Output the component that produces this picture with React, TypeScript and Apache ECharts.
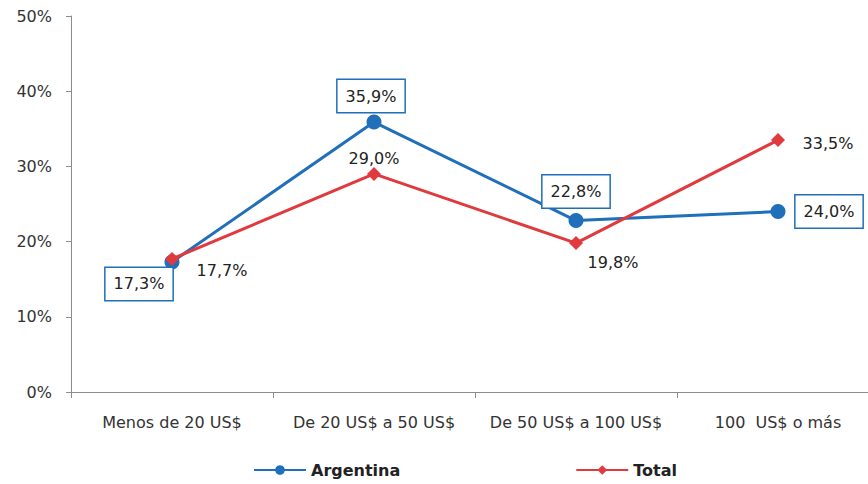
import React, { useEffect, useRef } from "react";
import * as echarts from "echarts";

const categories = ["Menos de 20 US$", "De 20 US$ a 50 US$", "De 50 US$ a 100 US$", "100  US$ o más"];
const argentina = [17.3, 35.9, 22.8, 24.0];
const total = [17.7, 29.0, 19.8, 33.5];
const yTicks = [0, 10, 20, 30, 40, 50];

const argOffsets = [[-33, 22], [-3, -26], [0, -29], [51, 0]];
const totOffsets = [[50, 12], [0, -15], [37, 19], [50, 3]];

const fmt = (v: number) => v.toFixed(1).replace(".", ",") + "%";
const FONT = "DejaVu Sans";

export default function App() {
  const ref = useRef<HTMLDivElement>(null);
  useEffect(() => {
    document.body.style.margin = "0";
    const chart = echarts.init(ref.current!, null, { renderer: "svg" });
    chart.setOption({
      animation: false,
      backgroundColor: "#ffffff",
      grid: { left: 71, width: 808, top: 16, bottom: 92, outerBoundsMode: "none", containLabel: false },
      legend: {
        top: 457,
        left: 248,
        itemWidth: 52,
        itemHeight: 12,
        itemGap: 175,
        textStyle: { fontFamily: FONT, fontSize: 16, fontWeight: "bold", color: "#222" },
        data: ["Argentina", "Total"],
      },
      xAxis: {
        type: "category",
        data: categories,
        boundaryGap: true,
        axisLine: { lineStyle: { color: "#8c8c8c", width: 1 } },
        axisTick: { show: true, length: 6, interval: 0, lineStyle: { color: "#8c8c8c" } },
        axisLabel: { fontFamily: FONT, fontSize: 16, color: "#333", margin: 22, interval: 0 },
      },
      yAxis: {
        type: "value",
        min: 0,
        max: 50,
        interval: 10,
        axisLine: { show: true, lineStyle: { color: "#8c8c8c", width: 1 } },
        axisTick: { show: true, length: 5, lineStyle: { color: "#8c8c8c" } },
        splitLine: { show: false },
        axisLabel: {
          fontFamily: FONT,
          fontSize: 16,
          color: "#333",
          margin: 19,
          formatter: (v: number) => (yTicks.includes(v) ? v + "%" : ""),
        },
      },
      series: [
        {
          name: "Argentina",
          type: "line",
          data: argentina.map((v, i) => ({
            value: v,
            label: {
              show: true,
              position: "inside",
              offset: argOffsets[i],
              formatter: fmt(v),
              fontFamily: FONT,
              fontSize: 16,
              color: "#222",
              backgroundColor: "#fff",
              borderColor: "#1f6fba",
              borderWidth: 1.5,
              padding: [9, 8, 7, 8],
            },
          })),
          symbol: "circle",
          symbolSize: 15,
          itemStyle: { color: "#1f6fba" },
          lineStyle: { color: "#1f6fba", width: 3 },
          z: 3,
        },
        {
          name: "Total",
          type: "line",
          data: total.map((v, i) => ({
            value: v,
            label: {
              show: true,
              position: "inside",
              offset: totOffsets[i],
              formatter: fmt(v),
              fontFamily: FONT,
              fontSize: 16,
              color: "#222",
            },
          })),
          symbol: "diamond",
          symbolSize: 14,
          itemStyle: { color: "#e0393e" },
          lineStyle: { color: "#e0393e", width: 3 },
          z: 4,
        },
      ],
    });
    return () => chart.dispose();
  }, []);
  return <div ref={ref} style={{ width: 868, height: 484 }} />;
}
